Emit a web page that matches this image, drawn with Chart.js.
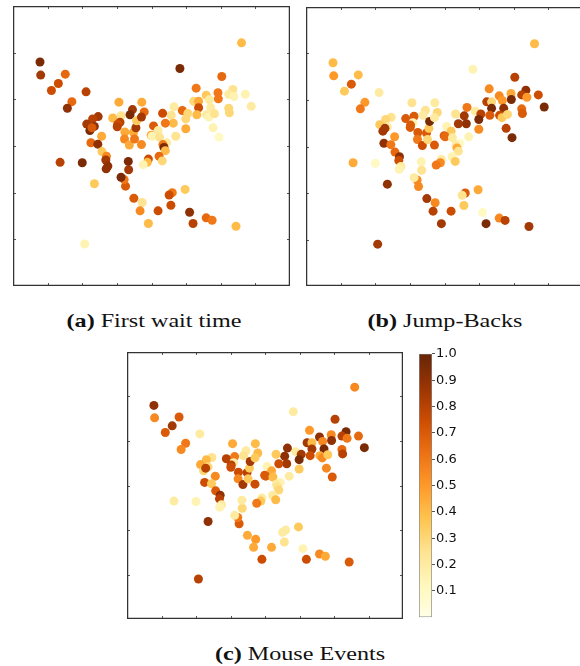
<!DOCTYPE html>
<html>
<head>
<meta charset="utf-8">
<script src="https://cdn.jsdelivr.net/npm/chart.js@4/dist/chart.umd.min.js"></script>
<style>
  html, body { margin: 0; padding: 0; background: #fff; overflow: hidden; }
  #page { position: relative; width: 580px; height: 666px; overflow: hidden; }
  canvas { position: absolute; }
  .cap { position: absolute; font-family: "Liberation Serif", "Times New Roman", serif; font-size: 19px; color: #111; text-align: center; white-space: nowrap; line-height: 20px; transform: scaleX(1.27); transform-origin: 50% 50%; }
</style>
</head>
<body>
<div id="page">
  <canvas id="chart-a" width="277" height="280" style="left:13px;top:6px"></canvas>
  <canvas id="chart-b" width="277" height="279" style="left:306px;top:7px"></canvas>
  <canvas id="chart-c" width="276" height="267" style="left:127px;top:352px"></canvas>
  <canvas id="chart-bar" width="60" height="281" style="left:419px;top:345px"></canvas>
  <div class="cap" id="cap-a" style="left:54px;width:200px;top:311px"><b>(a)</b> First wait time</div>
  <div class="cap" id="cap-b" style="left:345px;width:200px;top:311px"><b>(b)</b> Jump-Backs</div>
  <div class="cap" id="cap-c" style="left:200px;width:200px;top:644px"><b>(c)</b> Mouse Events</div>
</div>
<script>
// shared 2D embedding (same positions in all three panels)
const xs = [0.78, 0.80, 1.51, 1.11, 1.31, 1.70, 1.57, 2.11, 6.60, 4.82,
  6.03, 5.29, 5.58, 5.92, 5.93, 5.67, 5.22, 5.36, 6.35, 6.23,
  6.38, 6.71, 6.88, 6.23, 6.25, 5.71, 5.36, 4.89, 5.05, 5.31,
  5.59, 5.66, 5.82, 5.78, 5.95, 4.99, 4.99, 4.65, 4.57, 4.63,
  4.32, 4.40, 4.06, 4.19, 3.99, 4.02, 4.23, 4.70, 4.44, 4.33,
  4.36, 4.40, 4.22, 4.31, 3.91, 3.88, 3.76, 4.97, 4.60, 4.51,
  4.56, 4.19, 5.10, 5.20, 5.58, 5.75, 6.44, 3.73, 3.67, 3.91,
  3.49, 3.25, 3.21, 3.12, 3.34, 3.33, 3.06, 3.12, 2.88, 3.09,
  3.02, 3.01, 3.23, 3.22, 3.36, 3.48, 3.51, 3.55, 3.45, 3.38,
  3.57, 3.72, 3.79, 3.71, 3.71, 2.46, 2.30, 2.13, 2.35, 2.22,
  2.28, 2.56, 2.25, 2.45, 2.57, 2.70, 2.68, 2.74, 2.69, 1.36,
  2.00, 2.35, 2.07];
const ys = [4.80, 4.52, 4.54, 4.19, 4.34, 3.95, 3.81, 4.16, 5.21, 4.66,
  4.49, 4.24, 4.09, 4.14, 4.01, 3.99, 3.96, 3.96, 4.21, 4.11,
  4.06, 4.11, 3.85, 3.81, 3.71, 3.82, 3.82, 3.76, 3.70, 3.67,
  3.67, 3.62, 3.69, 3.39, 3.19, 3.58, 3.37, 3.84, 3.66, 3.49,
  3.70, 3.49, 3.43, 3.33, 3.23, 3.21, 3.19, 3.21, 3.07, 3.03,
  2.97, 2.90, 2.78, 2.68, 2.72, 2.65, 2.60, 2.07, 2.00, 1.95,
  1.73, 1.61, 1.58, 1.34, 1.46, 1.41, 1.28, 1.79, 1.61, 1.34,
  1.88, 2.14, 2.28, 2.33, 2.49, 2.67, 3.94, 3.65, 3.60, 3.51,
  3.46, 3.41, 3.30, 3.15, 3.02, 3.29, 3.15, 3.39, 3.78, 3.67,
  3.54, 3.94, 3.73, 3.62, 3.03, 3.63, 3.58, 3.47, 3.42, 3.33,
  3.39, 3.21, 3.07, 3.04, 2.88, 2.78, 2.70, 2.57, 2.51, 2.65,
  2.64, 2.19, 0.90];

// colour value per point, one list per panel
const firstWait = [0.95, 0.85, 0.65, 0.75, 0.75, 0.65, 0.9, 0.8, 0.4, 0.95,
  0.65, 0.6, 0.35, 0.6, 0.6, 0.2, 0.3, 0.45, 0.25, 0.2,
  0.15, 0.15, 0.2, 0.3, 0.3, 0.2, 0.75, 0.65, 0.3, 0.4,
  0.2, 0.15, 0.25, 0.15, 0.1, 0.3, 0.45, 0.2, 0.25, 0.4,
  0.75, 0.6, 0.7, 0.2, 0.45, 0.15, 0.25, 0.25, 0.2, 0.6,
  0.95, 0.4, 0.65, 0.3, 0.75, 0.4, 0.15, 0.35, 0.6, 0.75,
  0.75, 0.75, 0.9, 0.8, 0.65, 0.6, 0.4, 0.25, 0.55, 0.4,
  0.7, 0.7, 0.6, 0.95, 0.85, 0.95, 0.45, 0.25, 0.4, 0.8,
  0.75, 0.8, 0.45, 0.55, 0.45, 0.45, 0.6, 0.85, 0.85, 0.95,
  0.35, 0.45, 0.65, 0.85, 0.55, 0.85, 0.8, 0.85, 0.9, 0.95,
  0.7, 0.45, 0.65, 0.9, 0.35, 0.55, 0.85, 0.9, 0.9, 0.8,
  0.95, 0.35, 0.15];
const jumpBacks = [0.4, 0.5, 0.4, 0.35, 0.7, 0.5, 0.6, 0.2, 0.4, 0.15,
  0.8, 0.55, 0.55, 0.45, 0.95, 0.5, 0.8, 0.3, 0.9, 0.8,
  0.5, 0.75, 0.95, 0.65, 0.7, 0.9, 0.95, 0.2, 0.8, 0.7,
  0.75, 0.35, 0.3, 0.8, 0.95, 0.95, 0.55, 0.6, 0.85, 0.9,
  0.25, 0.85, 0.15, 0.35, 0.7, 0.65, 0.2, 0.15, 0.1, 0.2,
  0.45, 0.25, 0.15, 0.35, 0.2, 0.55, 0.6, 0.45, 0.7, 0.25,
  0.35, 0.75, 0.1, 0.95, 0.55, 0.8, 0.85, 0.55, 0.8, 0.85,
  0.85, 0.55, 0.55, 0.2, 0.25, 0.15, 0.25, 0.7, 0.7, 0.15,
  0.7, 0.7, 0.7, 0.6, 0.75, 0.7, 0.3, 0.35, 0.25, 0.2,
  0.95, 0.2, 0.3, 0.2, 0.7, 0.25, 0.3, 0.35, 0.2, 0.85,
  0.85, 0.5, 0.9, 0.6, 0.65, 0.9, 0.75, 0.2, 0.15, 0.45,
  0.1, 0.9, 0.85];
const mouseEvents = [0.9, 0.55, 0.7, 0.7, 0.85, 0.6, 0.55, 0.2, 0.55, 0.2,
  0.8, 0.5, 0.9, 0.55, 0.9, 0.55, 0.85, 0.4, 0.95, 0.8,
  0.6, 0.65, 0.95, 0.65, 0.8, 0.95, 0.85, 0.2, 0.85, 0.75,
  0.45, 0.55, 0.35, 0.55, 0.7, 0.95, 0.35, 0.9, 0.9, 0.85,
  0.35, 0.75, 0.15, 0.45, 0.7, 0.7, 0.4, 0.2, 0.15, 0.2,
  0.25, 0.3, 0.2, 0.4, 0.2, 0.35, 0.6, 0.35, 0.2, 0.2,
  0.25, 0.45, 0.15, 0.75, 0.55, 0.45, 0.7, 0.5, 0.45, 0.75,
  0.45, 0.7, 0.6, 0.2, 0.3, 0.2, 0.45, 0.6, 0.8, 0.2,
  0.8, 0.75, 0.75, 0.55, 0.85, 0.8, 0.35, 0.35, 0.2, 0.25,
  0.85, 0.4, 0.4, 0.35, 0.75, 0.25, 0.4, 0.45, 0.3, 0.3,
  0.8, 0.55, 0.75, 0.35, 0.7, 0.9, 0.8, 0.2, 0.15, 0.2,
  0.15, 0.9, 0.8];

const xTicks = [1, 2, 3, 4, 5, 6, 7];
const yTicks = [1, 2, 3, 4, 5];
const barTicks = [0.1, 0.2, 0.3, 0.4, 0.5, 0.6, 0.7, 0.8, 0.9, 1.0];

// YlOrBr colour map stops
const cmap = ["#ffffe5", "#fff7bc", "#fee391", "#fec44f", "#fe9929", "#ec7014", "#cc4c02", "#993404", "#662506"];

function hexToRgb(h) {
  return [parseInt(h.slice(1, 3), 16), parseInt(h.slice(3, 5), 16), parseInt(h.slice(5, 7), 16)];
}

function colorFor(v) {
  const t = Math.max(0, Math.min(1, v)) * (cmap.length - 1);
  const i = Math.min(Math.floor(t), cmap.length - 2);
  const f = t - i;
  const a = hexToRgb(cmap[i]), b = hexToRgb(cmap[i + 1]);
  const c = a.map((x, k) => Math.round(x + (b[k] - x) * f));
  return `rgb(${c[0]},${c[1]},${c[2]})`;
}

// frame on all four sides + small inward tick marks
const framePlugin = {
  id: "frame",
  afterDraw(chart) {
    const { ctx, chartArea: a, scales } = chart;
    ctx.save();
    ctx.strokeStyle = "#555";
    ctx.lineWidth = 1;
    ctx.beginPath();
    xTicks.forEach(v => {
      const px = Math.round(scales.x.getPixelForValue(v)) + 0.5;
      ctx.moveTo(px, a.bottom); ctx.lineTo(px, a.bottom - 3);
      ctx.moveTo(px, a.top); ctx.lineTo(px, a.top + 3);
    });
    yTicks.forEach(v => {
      const py = Math.round(scales.y.getPixelForValue(v)) + 0.5;
      ctx.moveTo(a.left, py); ctx.lineTo(a.left + 3, py);
      ctx.moveTo(a.right, py); ctx.lineTo(a.right - 3, py);
    });
    ctx.stroke();
    ctx.strokeStyle = "#333";
    ctx.lineWidth = 1.3;
    ctx.strokeRect(a.left + 0.6, a.top + 0.6, a.right - a.left - 1.2, a.bottom - a.top - 1.2);
    ctx.restore();
  }
};

function makeScatter(id, values) {
  const ctx = document.getElementById(id).getContext("2d");
  return new Chart(ctx, {
    type: "scatter",
    data: {
      datasets: [{
        data: xs.map((x, i) => ({ x: x, y: ys[i] })),
        pointBackgroundColor: values.map(colorFor),
        pointBorderWidth: 0,
        pointRadius: 4.5,
        clip: false
      }]
    },
    options: {
      responsive: false,
      animation: false,
      devicePixelRatio: 1,
      layout: { padding: 0, autoPadding: false },
      plugins: { legend: { display: false }, tooltip: { enabled: false } },
      scales: {
        x: { type: "linear", min: 0, max: 8, display: false },
        y: { type: "linear", min: 0, max: 6, display: false }
      }
    },
    plugins: [framePlugin]
  });
}

function makeColorbar() {
  const ctx = document.getElementById("chart-bar").getContext("2d");
  return new Chart(ctx, {
    type: "bar",
    data: {
      labels: [""],
      datasets: [{
        data: [[0, 1]],
        backgroundColor: (c) => {
          const area = c.chart.chartArea;
          if (!area) return cmap[4];
          const g = c.chart.ctx.createLinearGradient(0, area.bottom, 0, area.top);
          cmap.forEach((col, i) => g.addColorStop(i / (cmap.length - 1), col));
          return g;
        },
        borderColor: "#888",
        borderWidth: 1,
        borderSkipped: false,
        barPercentage: 1,
        categoryPercentage: 1
      }]
    },
    options: {
      responsive: false,
      animation: false,
      devicePixelRatio: 1,
      layout: { padding: { top: 7, bottom: 8, left: 0, right: 0 }, autoPadding: false },
      plugins: { legend: { display: false }, tooltip: { enabled: false } },
      scales: {
        x: { display: false },
        y: {
          position: "right",
          min: 0,
          max: 1,
          afterFit: (scale) => { scale.width = 47; },
          afterBuildTicks: (scale) => { scale.ticks = barTicks.map(v => ({ value: v })); },
          grid: { drawOnChartArea: false, tickLength: 3, color: "#555" },
          border: { display: false },
          ticks: {
            padding: 1,
            color: "#111",
            font: { family: "DejaVu Sans", size: 13 },
            callback: (v) => Number(v).toFixed(1)
          }
        }
      }
    }
  });
}

makeScatter("chart-a", firstWait);
makeScatter("chart-b", jumpBacks);
makeScatter("chart-c", mouseEvents);
makeColorbar();
</script>
</body>
</html>
